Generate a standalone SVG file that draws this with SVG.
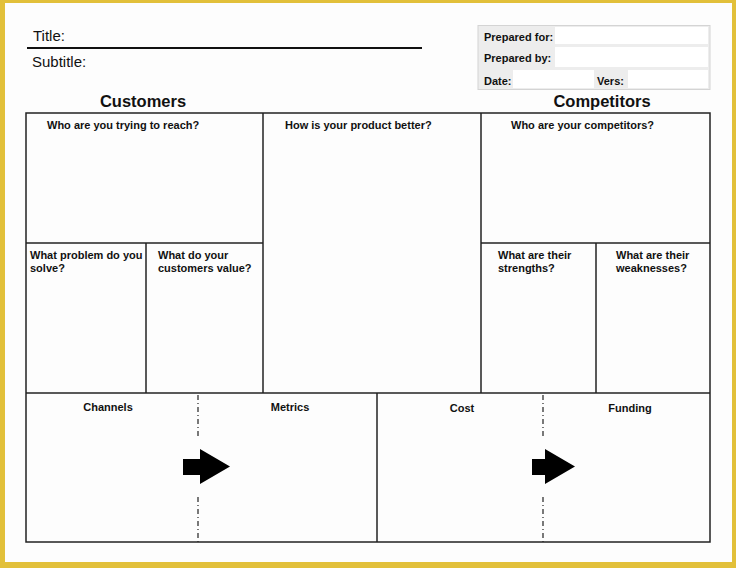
<svg xmlns="http://www.w3.org/2000/svg" width="736" height="568" viewBox="0 0 736 568">
<style>
.lbl{font-family:"Liberation Sans",Arial,sans-serif;font-size:11px;font-weight:bold;fill:#111}
.hd{font-family:"Liberation Sans",Arial,sans-serif;font-size:16.5px;font-weight:bold;fill:#111}
.tt{font-family:"Liberation Sans",Arial,sans-serif;font-size:15px;fill:#111}
.ln{stroke:#222;stroke-width:1.5;fill:none}
.dash{stroke:#222;stroke-width:1.2;fill:none;stroke-dasharray:5 3 1 3}
.fld{fill:#fff}
.arr{fill:#000}
</style>
<rect x="0" y="0" width="736" height="568" fill="#E2C03A"/>
<rect x="5" y="3" width="727" height="559" fill="#FDFDFD"/>
<g id="header">
<text class="tt" x="33" y="41">Title:</text>
<line x1="27" y1="48" x2="422" y2="48" stroke="#111" stroke-width="2"/>
<text class="tt" x="32" y="67">Subtitle:</text>
</g>
<g id="prepared">
<rect x="478" y="25.500" width="232" height="64" fill="#EDEDED" stroke="#D4D4D4" stroke-width="1"/>
<rect class="fld" x="555" y="27" width="153" height="17"/>
<rect class="fld" x="555" y="47" width="153" height="20"/>
<rect class="fld" x="513" y="70" width="81" height="18"/>
<rect class="fld" x="628" y="70" width="80" height="18"/>
<text class="lbl" x="484" y="41">Prepared for:</text>
<text class="lbl" x="484" y="62">Prepared by:</text>
<text class="lbl" x="484" y="85">Date:</text>
<text class="lbl" x="597" y="85">Vers:</text>
</g>
<g id="headings">
<text class="hd" x="143" y="107" text-anchor="middle">Customers</text>
<text class="hd" x="602" y="107" text-anchor="middle">Competitors</text>
</g>
<g id="grid">
<rect class="ln" x="26" y="113" width="684" height="429"/>
<line class="ln" x1="263" y1="113" x2="263" y2="393"/>
<line class="ln" x1="481" y1="113" x2="481" y2="393"/>
<line class="ln" x1="26" y1="243" x2="263" y2="243"/>
<line class="ln" x1="481" y1="243" x2="710" y2="243"/>
<line class="ln" x1="146" y1="243" x2="146" y2="393"/>
<line class="ln" x1="596" y1="243" x2="596" y2="393"/>
<line class="ln" x1="26" y1="393" x2="710" y2="393"/>
<line class="ln" x1="377" y1="393" x2="377" y2="542"/>
</g>
<g id="reach"><text class="lbl" x="47" y="129">Who are you trying to reach?</text></g>
<g id="better"><text class="lbl" x="285" y="129">How is your product better?</text></g>
<g id="competitors"><text class="lbl" x="511" y="129">Who are your competitors?</text></g>
<g id="problem"><text class="lbl" x="30" y="259">What problem do you</text><text class="lbl" x="30" y="272">solve?</text></g>
<g id="value"><text class="lbl" x="158" y="259">What do your</text><text class="lbl" x="158" y="272">customers value?</text></g>
<g id="strengths"><text class="lbl" x="498" y="259">What are their</text><text class="lbl" x="498" y="272">strengths?</text></g>
<g id="weaknesses"><text class="lbl" x="616" y="259">What are their</text><text class="lbl" x="616" y="272">weaknesses?</text></g>
<g id="channels"><text class="lbl" x="108" y="411" text-anchor="middle">Channels</text></g>
<g id="metrics"><text class="lbl" x="290" y="411" text-anchor="middle">Metrics</text></g>
<g id="cost"><text class="lbl" x="462" y="412" text-anchor="middle">Cost</text></g>
<g id="funding"><text class="lbl" x="630" y="412" text-anchor="middle">Funding</text></g>
<g id="connectors">
<line class="dash" x1="198" y1="395" x2="198" y2="437"/>
<line class="dash" x1="198" y1="497" x2="198" y2="542"/>
<line class="dash" x1="543" y1="395" x2="543" y2="437"/>
<line class="dash" x1="543" y1="497" x2="543" y2="542"/>
<polygon class="arr" points="183,459 200,459 200,449 230,466.500 200,484 200,475 183,475"/>
<polygon class="arr" points="532,459 545,459 545,449 575,466.500 545,484 545,475 532,475"/>
</g>
</svg>
